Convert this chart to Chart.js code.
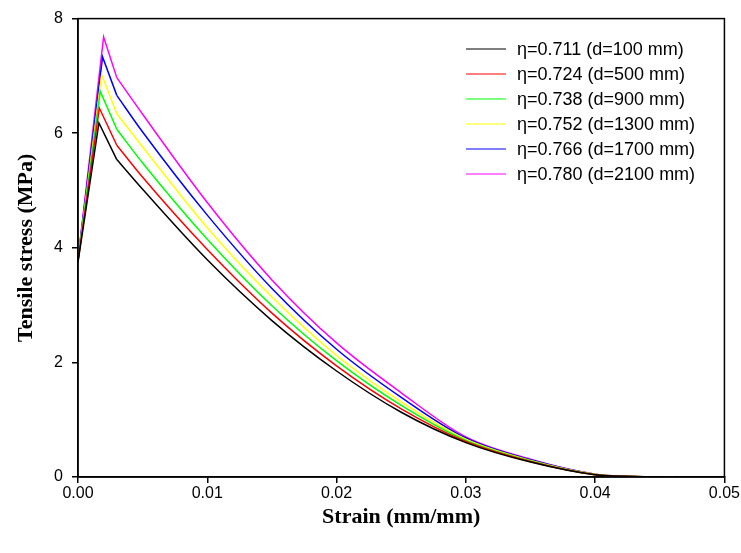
<!DOCTYPE html>
<html lang="en">
<head>
    <meta charset="UTF-8">
    <title>Tensile stress vs strain</title>
    <script src="https://cdn.jsdelivr.net/npm/chart.js"></script>
    <style>
        html, body { margin: 0; padding: 0; background: #fff; }
        #wrap { width: 741px; height: 553px; }
    </style>
</head>
<body>
    <div id="wrap"><canvas id="stressChart" width="741" height="553"></canvas></div>
    <script>
        // series labels and colours
        const labels = [
            'η=0.711 (d=100 mm)',
            'η=0.724 (d=500 mm)',
            'η=0.738 (d=900 mm)',
            'η=0.752 (d=1300 mm)',
            'η=0.766 (d=1700 mm)',
            'η=0.780 (d=2100 mm)'
        ];
        const colors = ['#000000', '#ff0000', '#00ff00', '#ffff00', '#0000ff', '#ff00ff'];

        // start point and peak of each curve
        const startStress = [3.75, 3.76, 3.77, 3.78, 3.79, 3.80];
        const peakStrain = [0.00162, 0.00165, 0.00172, 0.00183, 0.00190, 0.00198];
        const peakStress = [6.18, 6.44, 6.73, 7.02, 7.33, 7.68];

        // softening branch, read at these strains (first one is the knee)
        const strainTail = [0.003, 0.005, 0.010, 0.015, 0.020, 0.025, 0.030, 0.035, 0.040, 0.043, 0.046];
        const stressTail = [
            [5.54, 5.02, 3.79, 2.73, 1.85, 1.13, 0.60, 0.26, 0.04, 0.01, 0],
            [5.79, 5.23, 3.97, 2.86, 1.94, 1.19, 0.62, 0.27, 0.04, 0.01, 0],
            [6.07, 5.48, 4.15, 2.99, 2.03, 1.25, 0.64, 0.28, 0.04, 0.01, 0],
            [6.34, 5.76, 4.35, 3.14, 2.12, 1.31, 0.66, 0.29, 0.05, 0.01, 0],
            [6.66, 6.02, 4.57, 3.29, 2.23, 1.39, 0.68, 0.30, 0.05, 0.01, 0],
            [6.97, 6.33, 4.79, 3.44, 2.34, 1.47, 0.70, 0.31, 0.05, 0.01, 0]
        ];

        const xTicks = [0, 0.01, 0.02, 0.03, 0.04, 0.05];
        const yTicks = [0, 2, 4, 6, 8];

        // each curve = straight rise to the peak and knee, then a smooth softening branch
        const datasets = [];
        labels.forEach((label, i) => {
            datasets.push({
                label: label,
                data: [
                    { x: 0, y: startStress[i] },
                    { x: peakStrain[i], y: peakStress[i] },
                    { x: strainTail[0], y: stressTail[i][0] }
                ],
                borderColor: colors[i],
                borderWidth: 1.5,
                pointRadius: 0,
                tension: 0
            });
            datasets.push({
                label: label + ' tail',
                data: strainTail.map((s, j) => ({ x: s, y: stressTail[i][j] })),
                borderColor: colors[i],
                borderWidth: 1.5,
                pointRadius: 0,
                cubicInterpolationMode: 'monotone'
            });
        });

        // frame round the plot plus the legend inside it
        const framePlugin = {
            id: 'frame',
            afterDraw(chart) {
                const { ctx, chartArea: a } = chart;
                ctx.save();
                ctx.strokeStyle = '#000';
                ctx.lineWidth = 1.5;
                ctx.strokeRect(a.left, a.top, a.right - a.left, a.bottom - a.top);

                ctx.font = '18px "Liberation Sans", Arial, sans-serif';
                ctx.textBaseline = 'middle';
                ctx.textAlign = 'left';
                labels.forEach((label, i) => {
                    const y = 49 + i * 25;
                    ctx.strokeStyle = colors[i];
                    ctx.lineWidth = 1.2;
                    ctx.beginPath();
                    ctx.moveTo(466, y);
                    ctx.lineTo(506, y);
                    ctx.stroke();
                    ctx.fillStyle = '#000';
                    ctx.fillText(label, 517, y + 1);
                });
                ctx.restore();
            }
        };

        const tickFont = { family: '"Liberation Sans", Arial, sans-serif', size: 16 };
        const titleFont = { family: '"Liberation Serif", "Times New Roman", serif', size: 22, weight: 'bold' };

        new Chart(document.getElementById('stressChart'), {
            type: 'line',
            data: { datasets: datasets },
            plugins: [framePlugin],
            options: {
                responsive: false,
                animation: false,
                layout: { padding: { left: 0, top: 17, right: 16, bottom: 0 } },
                plugins: {
                    legend: { display: false },
                    tooltip: { enabled: false }
                },
                scales: {
                    x: {
                        type: 'linear',
                        min: 0,
                        max: 0.05,
                        afterFit: (s) => { s.height = 76; },
                        afterBuildTicks: (s) => { s.ticks = xTicks.map(v => ({ value: v })); },
                        ticks: {
                            color: '#000',
                            font: tickFont,
                            padding: 1,
                            maxRotation: 0,
                            callback: (v) => v.toFixed(2)
                        },
                        grid: { drawOnChartArea: false, tickLength: 6, color: '#000', lineWidth: 1.5 },
                        border: { color: '#000', width: 1.5 },
                        title: { display: true, text: 'Strain (mm/mm)', color: '#000', font: titleFont, padding: { top: 0, bottom: 22 } }
                    },
                    y: {
                        min: 0,
                        max: 8,
                        afterFit: (s) => { s.width = 78; },
                        afterBuildTicks: (s) => { s.ticks = yTicks.map(v => ({ value: v })); },
                        ticks: {
                            color: '#000',
                            font: tickFont,
                            padding: 9,
                            callback: (v) => String(v)
                        },
                        grid: { drawOnChartArea: false, tickLength: 6, color: '#000', lineWidth: 1.5 },
                        border: { color: '#000', width: 1.5 },
                        title: { display: true, text: 'Tensile stress (MPa)', color: '#000', font: titleFont, padding: { top: 13, bottom: 0 } }
                    }
                }
            }
        });
    </script>
</body>
</html>
